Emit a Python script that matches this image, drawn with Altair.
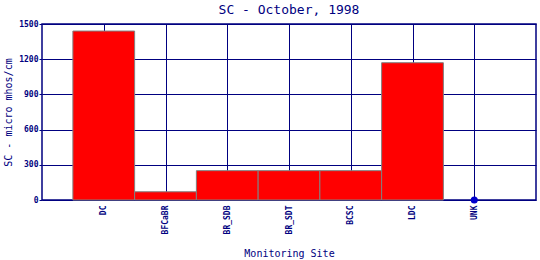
import altair as alt
import pandas as pd

sites = ["DC", "BFCaBR", "BR_SDB", "BR_SDT", "BCSC", "LDC", "UNK"]
values = [1440, 70, 250, 250, 250, 1170, 0]
y_ticks = [0, 300, 600, 900, 1200, 1500]

df = pd.DataFrame({"site": sites, "value": values, "pos": list(range(1, len(sites) + 1))})

NAVY = "#000080"
FONT = "DejaVu Sans Mono"
label_expr = "[''," + ",".join("'%s'" % s for s in sites) + ",''][datum.value]"

base = alt.Chart(df)

x_axis = alt.Axis(
    values=list(range(1, len(sites) + 1)),
    labelExpr=label_expr,
    labelAngle=-90,
    labelAlign="right",
    labelBaseline="middle",
    labelFontSize=8,
    labelFont=FONT,
    labelFontWeight="bold",
    labelColor=NAVY,
    labelPadding=5,
    labelOverlap=False,
    title="Monitoring Site",
    titleFont=FONT,
    titleFontSize=10,
    titleFontWeight="normal",
    titleColor=NAVY,
    titlePadding=15,
    grid=True,
    gridColor=NAVY,
    gridOpacity=1,
    gridWidth=1,
    domain=False,
    ticks=False,
)
y_axis = alt.Axis(
    values=y_ticks,
    format="d",
    labelFontSize=8,
    labelFont=FONT,
    labelFontWeight="bold",
    labelColor=NAVY,
    labelPadding=1,
    labelOverlap=False,
    labelBaseline="middle",
    title="SC - micro mhos/cm",
    titleFont=FONT,
    titleFontSize=10,
    titleFontWeight="normal",
    titleColor=NAVY,
    titlePadding=5,
    grid=True,
    gridColor=NAVY,
    gridOpacity=1,
    gridWidth=1,
    domain=False,
    ticks=True,
    tickSize=3,
    tickColor=NAVY,
    tickWidth=1,
)

x_scale = alt.Scale(domain=[0, 8], nice=False, zero=False)
y_scale = alt.Scale(domain=[0, 1500], nice=False)

bars = base.transform_filter("datum.value > 0").transform_calculate(
    x1="datum.pos - 0.5", x2="datum.pos + 0.5"
).mark_bar(color="#ff0000", stroke="#808080", strokeWidth=1).encode(
    x=alt.X("x1:Q", scale=x_scale, axis=x_axis),
    x2="x2:Q",
    y=alt.Y("value:Q", scale=y_scale, axis=y_axis),
    y2=alt.datum(0),
)

points = base.transform_filter("datum.value <= 0").mark_circle(
    color="#0000cc", opacity=1, size=50
).encode(
    x=alt.X("pos:Q", scale=x_scale, axis=x_axis),
    y=alt.Y("value:Q", scale=y_scale, axis=y_axis),
)

chart = alt.layer(bars, points).properties(
    width=494,
    height=176,
    autosize=alt.AutoSizeParams(type="none"),
    padding={"left": 42, "top": 24, "right": 4, "bottom": 60},
    title=alt.TitleParams(
        "SC - October, 1998",
        font=FONT,
        fontSize=13,
        fontWeight="normal",
        color=NAVY,
        offset=3,
    ),
).configure_view(stroke=NAVY, strokeWidth=1.5)

chart.save("out.html", embed_options={"renderer": "svg", "actions": False})
